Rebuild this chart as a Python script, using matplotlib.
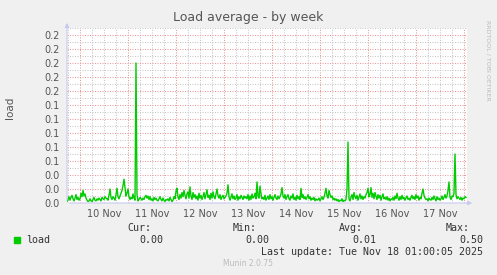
import matplotlib
matplotlib.use("Agg")
import matplotlib.pyplot as plt
import numpy as np
import pandas as pd

# Munin "load" week graph, 30 minute samples, values in 1/1000 load
start = pd.Timestamp("2025-11-09 17:30")
load_milli = [
    2, 5, 9, 4, 8, 11, 6, 3, 7, 12, 5, 8, 4, 6, 14, 9, 18, 10, 13, 7,
    4, 2, 3, 6, 3, 2, 5, 8, 4, 3, 6, 4, 7, 5, 3, 8, 6, 5, 9, 7,
    6, 4, 11, 20, 8, 5, 9, 7, 4, 12, 21, 9, 6, 10, 14, 18, 25, 34, 22, 10,
    14, 20, 9, 5, 8, 6, 13, 7, 4, 200, 12, 3, 5, 8, 6, 4, 7, 5, 9, 11,
    7, 10, 5, 9, 4, 6, 3, 8, 5, 7, 4, 3, 6, 9, 5, 3, 7, 4, 2, 5,
    4, 6, 3, 8, 5, 2, 4, 9, 6, 17, 21, 8, 5, 12, 7, 15, 9, 18, 11, 6,
    13, 16, 7, 23, 10, 5, 15, 8, 12, 6, 10, 4, 14, 7, 11, 5, 9, 15, 6, 12,
    19, 8, 11, 5, 14, 7, 16, 9, 6, 13, 20, 10, 7, 12, 5, 9, 11, 6, 8, 10,
    14, 26, 9, 4, 8, 13, 6, 10, 5, 7, 12, 4, 9, 6, 11, 8, 5, 10, 7, 9,
    6, 12, 4, 10, 5, 13, 7, 9, 14, 6, 30, 10, 7, 24, 13, 6, 8, 5, 11, 4,
    7, 10, 5, 12, 6, 9, 4, 8, 12, 7, 5, 10, 6, 9, 13, 22, 10, 7, 12, 5,
    9, 12, 6, 4, 10, 7, 13, 5, 8, 4, 11, 6, 9, 5, 21, 8, 12, 6, 9, 5,
    8, 12, 6, 9, 4, 7, 5, 8, 3, 6, 4, 5, 7, 3, 6, 9, 5, 8, 14, 21,
    10, 7, 18, 12, 8, 10, 5, 7, 4, 6, 3, 5, 2, 4, 3, 6, 2, 4, 3, 5,
    20, 87, 6, 3, 8, 12, 5, 15, 9, 6, 11, 4, 8, 13, 6, 10, 5, 9, 7, 12,
    15, 21, 9, 12, 22, 8, 14, 6, 15, 10, 5, 12, 7, 11, 4, 9, 13, 6, 8, 5,
    9, 4, 7, 3, 6, 5, 8, 4, 10, 6, 14, 7, 4, 9, 5, 11, 6, 8, 4, 7,
    10, 5, 7, 4, 8, 11, 6, 9, 5, 12, 7, 10, 4, 8, 6, 14, 20, 11, 7, 5,
    6, 3, 7, 5, 4, 8, 5, 10, 6, 3, 9, 5, 7, 4, 6, 10, 5, 8, 12, 7,
    10, 18, 30, 8, 5, 10, 9, 14, 70, 12, 6, 9, 7, 5, 8, 4, 7, 6, 9, 8,
]
day_labels = ["10 Nov", "11 Nov", "12 Nov", "13 Nov", "14 Nov", "15 Nov", "16 Nov", "17 Nov"]
stat_names = ["Cur:", "Min:", "Avg:", "Max:"]
stat_values = ["0.00", "0.00", "0.01", "0.50"]

load = np.array(load_milli) / 1000.0
times = pd.date_range(start, periods=len(load), freq="30min")
end = start + pd.Timedelta(hours=200)

BG = "#f0f0f0"
TXT = "#555555"
MAJOR = "#e89a9a"
MINOR = "#c8c8c8"
AXIS = "#c8c8f0"
GREEN = "#00cc00"

fig = plt.figure(figsize=(4.97, 2.75), dpi=100, facecolor=BG)
ax = fig.add_axes([67 / 497, 72 / 275, 400 / 497, 175 / 275])
ax.set_facecolor("white")

# grid: 6 hour gray lines, red at midnight
dots = (0, (1, 1.4))
for t in pd.date_range("2025-11-09 18:00", "2025-11-18 00:00", freq="6h"):
    c = MAJOR if t.hour == 0 else MINOR
    ax.axvline(t, color=c, lw=0.75, linestyle=dots, zorder=1)
for k in range(1, 26):
    c = MAJOR if k % 2 == 0 else MINOR
    ax.axhline(k / 100, color=c, lw=0.75, linestyle=dots, zorder=1)

ax.plot(times, load, color=GREEN, lw=1.0, zorder=3)

ax.set_xlim(start, end)
ax.set_ylim(0, 0.25)

yt = np.arange(0, 13) * 0.02
ax.set_yticks(yt)
ax.set_yticklabels([f"{v:.1f}" for v in yt])
noons = pd.date_range("2025-11-10 12:00", periods=len(day_labels), freq="D")
ax.set_xticks(noons)
ax.set_xticklabels(day_labels)
ax.tick_params(length=0, labelsize=7, colors=TXT, pad=4)
ax.tick_params(axis="y", pad=5)

for s in ax.spines.values():
    s.set_visible(False)

# axis lines with little arrows, rrdtool style
ax.annotate("", xy=(0, 1.045), xytext=(0, 0), xycoords="axes fraction",
            arrowprops=dict(arrowstyle="-|>", color=AXIS, lw=0.8, mutation_scale=6),
            annotation_clip=False, zorder=4)
ax.annotate("", xy=(1.02, 0), xytext=(0, 0), xycoords="axes fraction",
            arrowprops=dict(arrowstyle="-|>", color=AXIS, lw=0.8, mutation_scale=6),
            annotation_clip=False, zorder=4)

fig.text(248 / 497, 1 - 18 / 275, "Load average - by week", ha="center", va="center",
         fontsize=9, color=TXT)
fig.text(10 / 497, 1 - 108 / 275, "load", rotation=90, ha="center", va="center",
         fontsize=7.5, color=TXT)
fig.text(488 / 497, 1 - 60 / 275, "RRDTOOL / TOBI OETIKER", rotation=-90, ha="center",
         va="center", fontsize=4.5, color="#bbbbbb")

# legend block (monospace like rrdtool)
mono = dict(family="DejaVu Sans Mono", fontsize=7.2, color="#333333")
name_right = [151, 257, 363, 470]
value_right = [163, 269, 376, 483]
for name, val, xn, xv in zip(stat_names, stat_values, name_right, value_right):
    fig.text(xn / 497, 1 - 228 / 275, name, ha="right", va="center", **mono)
    fig.text(xv / 497, 1 - 240 / 275, val, ha="right", va="center", **mono)
fig.patches.append(plt.Rectangle((14 / 497, 1 - 243 / 275), 6 / 497, 6 / 275,
                                 transform=fig.transFigure, color=GREEN, figure=fig))
fig.text(26 / 497, 1 - 240 / 275, "load", ha="left", va="center", **mono)
fig.text(483 / 497, 1 - 252 / 275, "Last update: Tue Nov 18 01:00:05 2025",
         ha="right", va="center", **mono)
fig.text(248 / 497, 1 - 264 / 275, "Munin 2.0.75", ha="center", va="center",
         fontsize=5.5, color="#bbbbbb")

fig.savefig("out.png", dpi=100, facecolor=BG)
